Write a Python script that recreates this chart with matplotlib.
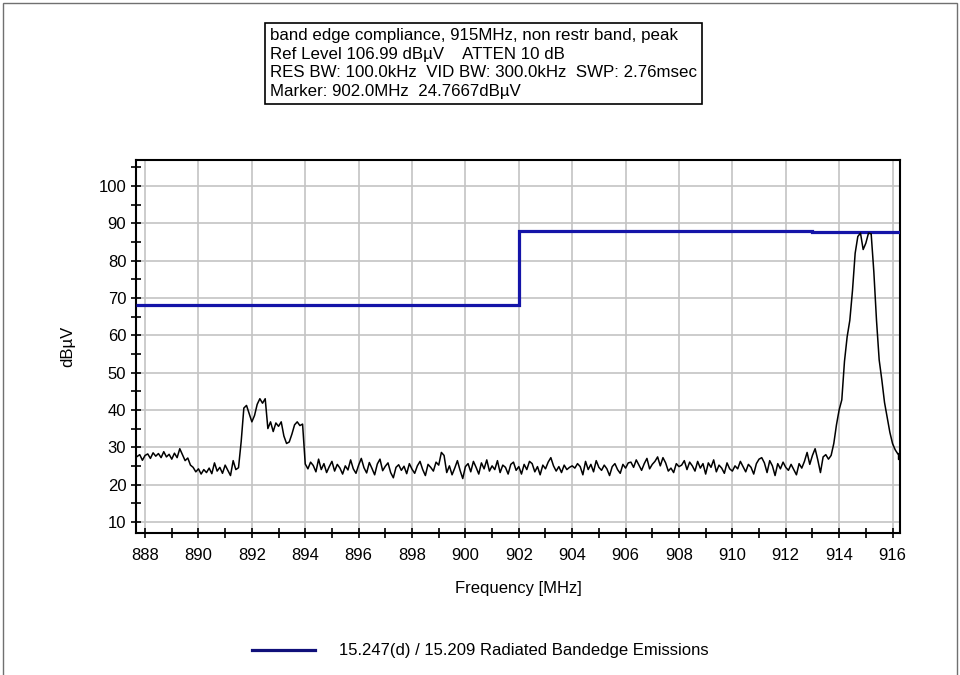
import numpy as np
import matplotlib
matplotlib.use("Agg")
import matplotlib.pyplot as plt
from matplotlib.lines import Line2D
from matplotlib.patches import Rectangle

plt.rcParams["font.family"] = ["Liberation Sans", "DejaVu Sans"]

# Sweep grid (MHz)
sweep_start, sweep_stop, sweep_step = 887.7, 916.3, 0.1

# Measured peak trace, dBuV, one value per sweep point
trace_dbuv = [
    # 887.7 - 889.0
    27.5, 28.0, 26.5, 27.8, 28.2, 27.0, 28.5, 27.6, 28.3, 27.2, 28.8, 27.4, 28.1, 26.8,
    # 889.1 - 890.0
    28.4, 27.2, 29.6, 28.0, 26.4, 27.1, 25.2, 24.6, 23.4, 24.2,
    # 890.1 - 891.5
    22.8, 24.0, 23.2, 24.4, 22.9, 25.8, 23.6, 24.6, 23.0, 25.2, 23.8, 22.4, 26.4, 24.0, 24.5,
    # 891.6 - 894.0  (emission near 892-894)
    31.5, 40.5, 41.2, 39.0, 36.8, 38.5, 41.5, 43.0, 41.8, 43.0,
    35.0, 36.8, 34.2, 36.5, 35.6, 36.8, 33.0, 31.0, 31.4, 33.5,
    36.0, 36.8, 35.8, 36.2, 25.5,
    # 894.1 - 913.7  noise floor
    24.2, 26.0, 25.1, 23.4, 26.8, 24.0, 25.6, 23.2, 24.8, 26.2,
    23.6, 25.4, 24.4, 22.8, 25.0, 23.9, 26.6, 24.2, 23.0, 25.2,
    27.0, 24.5, 23.1, 25.9, 24.3, 22.6, 25.5, 26.8, 23.7, 24.9,
    25.8, 23.2, 21.8, 24.6, 25.3, 23.8, 24.9, 22.9, 25.6, 24.1,
    23.0, 25.0, 26.2, 24.0, 22.4, 25.4, 24.6, 23.6, 26.0, 25.2,
    28.6, 27.8, 23.2, 25.0, 22.6, 24.4, 26.4, 23.8, 21.6, 24.8,
    25.6, 23.4, 26.2, 24.6, 22.8, 25.8, 24.2, 26.6, 23.6, 25.0,
    24.0, 26.4, 23.2, 25.2, 24.6, 22.8, 25.4, 26.0, 23.8, 24.8,
    22.8, 25.4, 24.0, 26.2, 25.6, 23.4, 24.8, 22.6, 25.2, 24.2,
    26.0, 27.2, 25.0, 23.6, 24.8, 23.2, 25.2, 24.0, 24.6, 25.0,
    24.4, 25.6, 24.8, 22.6, 26.2, 24.0, 25.4, 23.4, 26.4, 24.6,
    23.8, 25.2, 24.2, 22.4, 24.8, 25.6, 24.0, 23.0, 25.4, 24.4,
    25.8, 26.0, 24.6, 26.6, 25.2, 23.8, 25.6, 27.0, 24.2, 25.4,
    26.2, 27.4, 25.0, 27.2, 25.8, 23.6, 24.4, 23.2, 25.6, 24.8,
    25.2, 26.4, 24.0, 26.0, 25.0, 23.6, 26.2, 24.4, 25.6, 22.8,
    25.8, 24.6, 26.6, 23.4, 25.2, 24.4, 23.0, 25.8, 24.2, 23.6,
    25.0, 24.2, 26.2, 24.8, 23.4, 25.4, 24.6, 22.8, 25.6, 26.8,
    27.2, 25.8, 23.2, 26.4, 25.0, 22.4, 25.6, 24.2, 26.0, 24.6,
    23.8, 25.4, 24.0, 22.6, 25.6, 24.4, 26.2, 28.6, 25.4, 27.8,
    29.6, 26.6, 23.2, 27.4, 28.0, 26.8, 27.8,
    # 913.8 - 916.3  carrier
    31.0, 36.0, 40.0, 42.7, 53.0, 59.6, 64.0, 72.0, 82.0, 86.5,
    87.4, 83.0, 84.7, 87.4, 87.2, 77.0, 64.0, 53.4, 48.0, 42.0,
    38.0, 34.0, 31.0, 29.3, 28.2, 27.6,
]

# 15.247(d) / 15.209 limit line
limit_edges = [887.66, 902.0, 913.0, 916.28]
limit_dbuv = [68.0, 88.0, 87.6]

header_lines = [
    "band edge compliance, 915MHz, non restr band, peak",
    "Ref Level 106.99 dB\u00b5V    ATTEN 10 dB",
    "RES BW: 100.0kHz  VID BW: 300.0kHz  SWP: 2.76msec",
    "Marker: 902.0MHz  24.7667dB\u00b5V",
]
limit_label = "15.247(d) / 15.209 Radiated Bandedge Emissions"

freq = np.round(np.arange(sweep_start, sweep_stop + sweep_step / 2, sweep_step), 1)
assert len(freq) == len(trace_dbuv)

fig = plt.figure(figsize=(9.6, 6.75), dpi=100)
fig.patch.set_facecolor("white")
ax = fig.add_axes([136 / 960, 1 - 533 / 675, (900 - 136) / 960, (533 - 160) / 675])

limit_color = "#1414a8"
ax.stairs(limit_dbuv, limit_edges, baseline=None, color=limit_color, lw=2.3, zorder=3)
ax.plot(freq, trace_dbuv, color="black", lw=1.1, zorder=4)
ax.plot(freq[-1], trace_dbuv[-1], marker="s", ms=4, color="black", zorder=5)

ax.set_xlim(887.66, 916.28)
ax.set_ylim(7, 107)
ax.set_xticks(np.arange(888, 917, 2))
ax.set_xticks(np.arange(889, 917, 2), minor=True)
ax.set_yticks(np.arange(10, 101, 10))
ax.set_yticks(np.arange(15, 106, 10), minor=True)
ax.grid(True, which="major", color="#c4c4c4", lw=1.2)
ax.set_axisbelow(True)
ax.tick_params(which="both", direction="inout", length=7, width=1.2, labelsize=12)
ax.tick_params(axis="x", pad=7)
for side in ["left", "bottom", "top", "right"]:
    ax.spines[side].set_linewidth(1.5)

ax.set_xlabel("Frequency [MHz]", fontsize=12, labelpad=13)
ax.set_ylabel("dB\u00b5V", fontsize=12, labelpad=17)

# Header box
fig.text(270 / 960, 1 - 28 / 675, "\n".join(header_lines), fontsize=12.2,
         ha="left", va="top", linespacing=1.31,
         bbox=dict(boxstyle="square,pad=0.3", fc="white", ec="black", lw=1.2))

# Legend below the axes
handle = Line2D([], [], color="#10107a", lw=2.3)
fig.legend([handle], [limit_label], loc="center", bbox_to_anchor=(0.5, 1 - 651 / 675),
           frameon=False, fontsize=12, handlelength=3.8, handletextpad=1.4)

# Outer frame
fig.add_artist(Rectangle((0.003, -0.01), 0.994, 1.006, transform=fig.transFigure,
                         fill=False, ec="#707070", lw=1.0))

fig.savefig("out.png", dpi=100)
